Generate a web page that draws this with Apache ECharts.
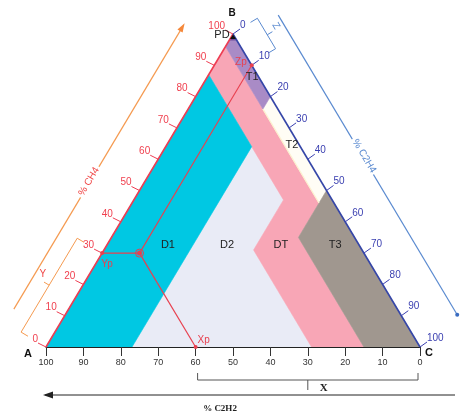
<!DOCTYPE html>
<html>
<head>
<meta charset="utf-8">
<script src="https://cdn.jsdelivr.net/npm/echarts@6/dist/echarts.min.js"></script>
<style>
  html, body { margin: 0; padding: 0; background: #ffffff; }
  #chart { width: 461px; height: 413px; }
</style>
</head>
<body>
<div id="chart"></div>
<script>
// Duval triangle: every gas point is written as [CH4 %, C2H4 %, C2H2 %]
const zoneNames = ['PD', 'T1', 'T2', 'T3', 'D1', 'D2', 'DT'];
const zonePD = [[100, 0, 0], [98, 0, 2], [98, 2, 0]];
const zoneT1 = [[98, 2, 0], [80, 20, 0], [76, 20, 4], [96, 0, 4], [98, 0, 2]];
const zoneT2 = [[80, 20, 0], [50, 50, 0], [46, 50, 4], [76, 20, 4]];
const zoneT3 = [[50, 50, 0], [0, 100, 0], [0, 85, 15], [35, 50, 15]];
const zoneD1 = [[87, 0, 13], [0, 0, 100], [0, 23, 77], [64, 23, 13]];
const zoneD2 = [[64, 23, 13], [0, 23, 77], [0, 71, 29], [31, 40, 29], [47, 40, 13]];
const zoneDT = [[96, 0, 4], [87, 0, 13], [47, 40, 13], [31, 40, 29], [0, 71, 29],
                [0, 85, 15], [35, 50, 15], [46, 50, 4], [76, 20, 4]];

// Tick values along each side
const ch4Ticks = [0, 10, 20, 30, 40, 50, 60, 70, 80, 90, 100];
const c2h4Ticks = [0, 10, 20, 30, 40, 50, 60, 70, 80, 90, 100];
const c2h2Ticks = [100, 90, 80, 70, 60, 50, 40, 30, 20, 10, 0];

// Worked example: the sample point
const sampleCH4 = 30;   // Yp
const sampleC2H4 = 10;  // Zp
const sampleC2H2 = 60;  // Xp

// Styling / layout
const zoneColors = {
  PD: '#6f4f9f', T1: '#a98bc6', T2: '#fffdf5', T3: '#a0978f',
  D1: '#00c8e3', D2: '#e9ebf6', DT: '#f8a6b6'
};
const zoneLabelAnchors = {
  D1: [32.6, 16.3, 51.1], D2: [32.6, 32.1, 35.3], DT: [32.6, 46.5, 20.9],
  T3: [32.6, 61.0, 6.4], T2: [64.5, 33.5, 2.0], T1: [86.3, 12.0, 1.7]
};
const FONT = 'Liberation Sans, Arial, sans-serif';

const zoneShapes = { PD: zonePD, T1: zoneT1, T2: zoneT2, T3: zoneT3, D1: zoneD1, D2: zoneD2, DT: zoneDT };
const zoneOrder = ['D2', 'DT', 'D1', 'T2', 'T3', 'T1', 'PD'];

// ternary -> plane: x = C2H4 + CH4/2, y = CH4
function toXY(g) { return [g[1] + g[0] / 2, g[0]]; }

function renderZone(params, api) {
  const name = zoneOrder[params.dataIndex];
  const pts = zoneShapes[name].map(g => api.coord(toXY(g)));
  return {
    type: 'polygon',
    shape: { points: pts },
    style: { fill: zoneColors[name], stroke: zoneColors[name], lineWidth: 0.6 }
  };
}

function txt(x, y, text, opt) {
  opt = opt || {};
  return {
    type: 'text', x: x, y: y, rotation: opt.rotation || 0, z2: 20,
    style: {
      text: text, fill: opt.fill || '#222',
      font: (opt.weight || 'normal') + ' ' + (opt.size || 10) + 'px ' + (opt.family || FONT),
      align: opt.align || 'center', verticalAlign: 'middle',
      backgroundColor: opt.bg, padding: opt.pad
    }
  };
}
function line(p, q, color, w) {
  return { type: 'line', z2: 10, shape: { x1: p[0], y1: p[1], x2: q[0], y2: q[1] },
           style: { stroke: color, lineWidth: w || 1 } };
}
function poly(points, color) {
  return { type: 'polyline', z2: 10, shape: { points: points }, style: { stroke: color, lineWidth: 1, fill: null } };
}
function dot(p, r, color) {
  return { type: 'circle', z2: 15, shape: { cx: p[0], cy: p[1], r: r }, style: { fill: color } };
}

function renderOverlay(params, api) {
  const P = g => api.coord(toXY(g));
  const A = P([0, 0, 100]), B = P([100, 0, 0]), C = P([0, 100, 0]);
  const unit = (p, q) => { const dx = q[0] - p[0], dy = q[1] - p[1], l = Math.hypot(dx, dy); return [dx / l, dy / l]; };
  const uL = unit(A, B), nL = [uL[1], -uL[0]];
  const uR = unit(B, C), nR = [uR[1], -uR[0]];
  const at = (O, u, n, t, d) => [O[0] + u[0] * t + n[0] * d, O[1] + u[1] * t + n[1] * d];
  const angL = Math.atan2(-uL[1], uL[0]);
  const angR = -Math.atan2(uR[1], uR[0]);
  const kids = [];

  // faint cream seam between DT and T2
  kids.push(line(P([76, 20, 4]), P([46, 50, 4]), '#fcf1cf', 1.2));

  // triangle sides
  kids.push(line(A, B, '#ee3d52', 1.6));
  kids.push(line(B, C, '#3546a8', 1.6));

  // CH4 scale (left side)
  ch4Ticks.forEach(v => {
    const E = P([v, 0, 100 - v]);
    kids.push(line(E, [E[0] - 8, E[1] - 4], '#ee3d52', 1));
    kids.push(txt(E[0] - 8, E[1] - 8, String(v), { fill: '#f0404f', align: 'right', size: 10 }));
  });
  // C2H4 scale (right side)
  c2h4Ticks.forEach(v => {
    const E = P([100 - v, v, 0]);
    kids.push(line(E, [E[0] + 7, E[1] - 5], '#3a3fb0', 1));
    kids.push(txt(E[0] + 7, E[1] - 9, String(v), { fill: '#3a3fb0', align: 'left', size: 10 }));
  });

  // % CH4 arrow
  const o1 = at(A, uL, nL, 16, 47), o2 = at(A, uL, nL, 344, 47);
  kids.push(line(o1, o2, '#f59a50', 1.2));
  kids.push({ type: 'polygon', z2: 12, shape: { points: [
    at(A, uL, nL, 349, 47), at(A, uL, nL, 340, 44), at(A, uL, nL, 340, 50)] }, style: { fill: '#f5883a' } });
  const lc = at(A, uL, nL, 164, 48);
  kids.push(txt(lc[0], lc[1], '% CH4', { fill: '#f04848', rotation: angL, size: 10, bg: '#ffffff', pad: [0, 2] }));

  // Y bracket (0 to 30 on the CH4 scale)
  const yLen = (B[1] - A[1]) / uL[1] * sampleCH4 / 100;
  kids.push(poly([at(A, uL, nL, 0, 21), at(A, uL, nL, 0, 29), at(A, uL, nL, yLen, 29), at(A, uL, nL, yLen, 21)], '#f59a50'));
  kids.push(line(at(A, uL, nL, yLen / 2, 29), at(A, uL, nL, yLen / 2, 35), '#f59a50', 1));
  const yl = at(A, uL, nL, yLen / 2 + 6, 40);
  kids.push(txt(yl[0], yl[1], 'Y', { fill: '#f04848', size: 10 }));

  // % C2H4 guide line (right side)
  const b1 = at(B, uR, nR, 7, 48.5), b2 = at(B, uR, nR, 356, 48.5);
  kids.push(line(b1, b2, '#5a8ad0', 1.2));
  kids.push(dot(b2, 2, '#3a6cc0'));
  const rc = at(B, uR, nR, 172, 50);
  kids.push(txt(rc[0], rc[1], '% C2H4', { fill: '#5a8ad0', rotation: angR, size: 10, bg: '#ffffff', pad: [0, 2] }));

  // Z bracket (0 to 10 on the C2H4 scale)
  const zLen = (C[1] - B[1]) / uR[1] * sampleC2H4 / 100;
  kids.push(poly([at(B, uR, nR, -1, 21), at(B, uR, nR, -1, 29), at(B, uR, nR, zLen - 2, 29), at(B, uR, nR, zLen - 2, 21)], '#5a8ad0'));
  kids.push(line(at(B, uR, nR, zLen / 2, 29), at(B, uR, nR, zLen / 2, 35), '#5a8ad0', 1));
  const zl = at(B, uR, nR, zLen / 2 - 3, 41);
  kids.push(txt(zl[0], zl[1], 'Z', { fill: '#5a8ad0', size: 10, rotation: angR }));

  // X bracket (60 to 0 on the C2H2 scale) and the % C2H2 arrow
  const xp = P([0, 100 - sampleC2H2, sampleC2H2]);
  const by = A[1] + 33, bx1 = xp[0] + 2, bx2 = C[0] - 2, bmid = (bx1 + bx2) / 2;
  kids.push(poly([[bx1, by - 7], [bx1, by], [bx2, by], [bx2, by - 7]], '#555'));
  kids.push(line([bmid, by], [bmid, by + 10], '#555', 1));
  kids.push(txt(bmid + 16, by + 8, 'X', { fill: '#222', weight: 'bold', size: 11, family: 'Liberation Serif, serif' }));
  const ay = A[1] + 48;
  kids.push(line([C[0] + 35, ay], [A[0] - 1, ay], '#222', 1));
  kids.push({ type: 'polygon', z2: 12, shape: { points: [[A[0] - 3, ay], [A[0] + 7, ay - 3.5], [A[0] + 7, ay + 3.5]] }, style: { fill: '#222' } });
  kids.push(txt(220, ay + 14, '% C2H2', { fill: '#222', weight: 'bold', size: 9, family: 'Liberation Serif, serif' }));

  // worked example construction
  const yp = P([sampleCH4, 0, 100 - sampleCH4]);
  const zp = P([100 - sampleC2H4, sampleC2H4, 0]);
  const pt = P([sampleCH4, sampleC2H4, sampleC2H2]);
  const red = '#e8404f';
  kids.push(line(yp, pt, red, 1.2));
  kids.push(line(xp, pt, red, 1.2));
  kids.push(line(pt, zp, red, 1.1));
  kids.push(dot(yp, 2, red), dot(xp, 2, red), dot(zp, 2, red), dot(pt, 2.5, red));
  kids.push({ type: 'circle', z2: 15, shape: { cx: pt[0], cy: pt[1], r: 4 }, style: { fill: null, stroke: red, lineWidth: 1 } });
  kids.push(txt(yp[0] + 5, yp[1] + 11, 'Yp', { fill: red, size: 10 }));
  kids.push(txt(xp[0] + 8, xp[1] - 7, 'Xp', { fill: red, size: 10 }));
  kids.push(txt(zp[0] - 5, zp[1] - 3, 'Zp', { fill: red, size: 10, align: 'right' }));

  // zone names
  Object.keys(zoneLabelAnchors).forEach(k => {
    const c = P(zoneLabelAnchors[k]);
    kids.push(txt(c[0], c[1], k, { fill: '#222', size: 11 }));
  });

  // vertices
  kids.push(txt(A[0] - 18, A[1] + 7, 'A', { fill: '#111', weight: 'bold', size: 11 }));
  kids.push(txt(C[0] + 9, C[1] + 6, 'C', { fill: '#111', weight: 'bold', size: 11 }));
  kids.push(txt(B[0] - 1, B[1] - 21, 'B', { fill: '#111', weight: 'bold', size: 10 }));
  kids.push(txt(B[0] - 11, B[1] + 1, 'PD', { fill: '#222', size: 11 }));
  kids.push({ type: 'polygon', z2: 16, shape: { points: [[B[0], B[1] + 0.5], [B[0] - 3, B[1] + 5], [B[0] + 3, B[1] + 5]] }, style: { fill: '#111' } });

  return { type: 'group', children: kids };
}

const chart = echarts.init(document.getElementById('chart'), null, { renderer: 'canvas' });
chart.setOption({
  animation: false,
  backgroundColor: '#ffffff',
  grid: { left: 46, right: 41, top: 34, bottom: 66 },
  xAxis: {
    type: 'value', min: 0, max: 100, interval: 10, z: 5,
    axisLine: { lineStyle: { color: '#222', width: 1 } },
    axisTick: { length: 9, lineStyle: { color: '#333' } },
    splitLine: { show: false },
    axisLabel: {
      fontSize: 9, color: '#333', margin: 11, fontFamily: FONT,
      formatter: v => String(c2h2Ticks[Math.round(v / 10)])
    }
  },
  yAxis: { type: 'value', min: 0, max: 100, show: false },
  series: [
    {
      type: 'custom', name: 'zones', coordinateSystem: 'cartesian2d', z: 1, clip: false,
      renderItem: renderZone,
      data: zoneOrder.map((k, i) => [i, 0]),
      silent: true
    },
    {
      type: 'custom', name: 'scales', coordinateSystem: 'cartesian2d', z: 6, clip: false,
      renderItem: renderOverlay,
      data: [[0, 0]],
      silent: true
    }
  ]
});
</script>
</body>
</html>
